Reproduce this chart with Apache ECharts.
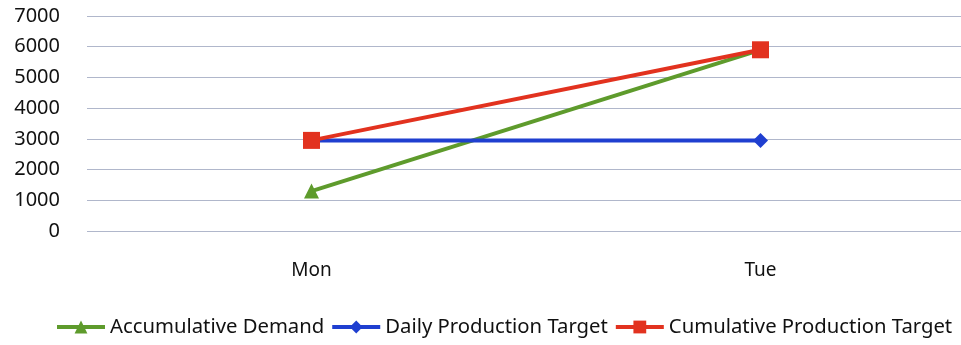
<!DOCTYPE html>
<html>
<head>
<meta charset="utf-8">
<script src="https://cdn.jsdelivr.net/npm/echarts@6/dist/echarts.min.js"></script>
<style>
  html, body { margin: 0; padding: 0; background: #fff; overflow: hidden; width: 961px; height: 345px; }
  #chart { width: 990px; height: 345px; }
</style>
</head>
<body>
<div id="chart"></div>
<script>
// Categories and series values
const days = ['Mon', 'Tue'];
const accumulativeDemand = [1300, 5900];
const dailyProductionTarget = [2950, 2950];
const cumulativeProductionTarget = [2950, 5900];
const yTicks = [0, 1000, 2000, 3000, 4000, 5000, 6000, 7000];

const FONT = '"Noto Sans", sans-serif';
const GREEN = '#5e9b2c';
const BLUE = '#1f3fd0';
const RED = '#e2321f';

const chart = echarts.init(document.getElementById('chart'), null, { renderer: 'canvas' });

function lineSeries(name, data, color, symbol, size) {
  return {
    name: name,
    type: 'line',
    data: data,
    symbol: symbol,
    symbolSize: size,
    lineStyle: { color: color, width: 4 },
    itemStyle: { color: color },
    emphasis: { disabled: true },
    animation: false
  };
}

chart.setOption({
  animation: false,
  grid: { left: 87, top: 16, width: 898, height: 215, containLabel: false },
  xAxis: {
    type: 'category',
    data: days,
    boundaryGap: true,
    axisLine: { show: false },
    axisTick: { show: false },
    axisLabel: { color: '#111', fontFamily: FONT, fontSize: 19, margin: 30 }
  },
  yAxis: {
    type: 'value',
    min: yTicks[0],
    max: yTicks[yTicks.length - 1],
    interval: 1000,
    axisLine: { show: false },
    axisTick: { show: false },
    axisLabel: {
      color: '#111', fontFamily: FONT, fontSize: 20, margin: 27,
      formatter: function (v) { return String(v); }
    },
    splitLine: { lineStyle: { color: '#b0b7cb', width: 1 } }
  },
  legend: {
    bottom: 3,
    left: 50,
    itemGap: 6,
    itemWidth: 48,
    itemHeight: 16,
    lineStyle: { width: 4 },
    textStyle: { color: '#111', fontFamily: FONT, fontSize: 20.3 },
    data: ['Accumulative Demand', 'Daily Production Target', 'Cumulative Production Target']
  },
  series: [
    lineSeries('Accumulative Demand', accumulativeDemand, GREEN, 'triangle', 15),
    lineSeries('Daily Production Target', dailyProductionTarget, BLUE, 'diamond', 15),
    lineSeries('Cumulative Production Target', cumulativeProductionTarget, RED, 'rect', 17)
  ]
});
</script>
</body>
</html>
